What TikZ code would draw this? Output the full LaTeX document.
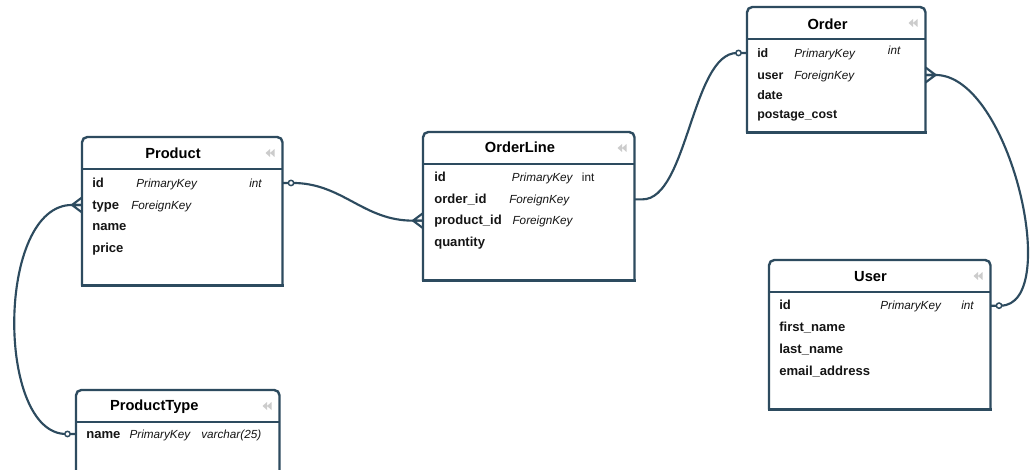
\documentclass[tikz,border=0pt]{standalone}
\usepackage{fontspec}
\setmainfont{Liberation Sans}
\usetikzlibrary{calc}

\definecolor{erline}{HTML}{2D4B5F}
\definecolor{ertext}{HTML}{151515}

\tikzset{
  tbl/.style 2 args={minimum width=#1*0.75pt, minimum height=#2*0.75pt, inner sep=0pt, anchor=north west},
  border/.style={draw=erline, line width=1.8pt},
  title/.style={anchor=base, inner sep=0pt, font=\fontsize{11}{13}\selectfont\bfseries, text=black},
  fld/.style={anchor=base west, inner sep=0pt, text height=8pt, text depth=1.5pt, font=\fontsize{9.8}{12}\selectfont\bfseries, text=ertext},
  fldsm/.style={fld, font=\fontsize{9.3}{11}\selectfont\bfseries},
  key/.style={anchor=base west, inner sep=0pt, font=\fontsize{8.8}{10}\selectfont\itshape, text=ertext},
  plain/.style={key, font=\fontsize{8.8}{10}\selectfont},
  link/.style={draw=erline, line width=1.6pt},
  ring/.style={draw=erline, fill=white, line width=1.1pt},
  crow/.pic={\draw[link, line join=round] (0,-7.5) -- (10,0) -- (0,7.5) (0,0) -- (10,0);},
  dot/.pic={\draw[link] (0,0) -- (6,0); \draw[ring] (8.5,0) circle (2pt);},
  collapse/.pic={\fill[gray!40] (0,0) -- (4.5,-4) -- (4.5,4) -- cycle (4.5,0) -- (9,-4) -- (9,4) -- cycle;}
}

\begin{document}
\begin{tikzpicture}[x=0.75pt, y=-0.75pt]
  % page
  \fill[white] (0,0) rectangle (1032,470);
  \useasboundingbox (0,0) rectangle (1032,470);
  \clip (0,0) rectangle (1032,470);

  % table boxes
  \node[tbl={200}{148}] (product) at (82,137) {};
  \node[tbl={211}{148}] (orderline) at (423,132) {};
  \node[tbl={178}{125}] (order) at (747,7) {};
  \node[tbl={221}{149}] (user) at (769,260) {};
  \node[tbl={203}{110}] (producttype) at (76,390) {};

  % frames, header lines and collapse icons
  \foreach \t in {product,orderline,order,user,producttype}{
    \draw[border, rounded corners=4pt] (\t.south west) -- (\t.north west) -- (\t.north east) -- (\t.south east);
    \draw[border, line cap=rect] (\t.south west) -- (\t.south east);
    \draw[border] ($(\t.north west)+(0,32)$) -- ($(\t.north east)+(0,32)$);
    \pic at ($(\t.north east)+(-17,16)$) {collapse};
  }

  % titles
  \node[title] (product-t) at (173,159) {Product};
  \node[title] (orderline-t) at (520,153) {OrderLine};
  \node[title] (order-t) at (827.5,29.3) {Order};
  \node[title] (user-t) at (870.5,281.7) {User};
  \node[title] (producttype-t) at (154.3,410.7) {ProductType};

  % Product
  \node[fld] (p-id) at (92,187.3) {id};
  \node[key] (p-id-k) at (136,187.3) {PrimaryKey};
  \node[key] (p-id-ty) at (249,187.3) {int};
  \node[fld] (p-type) at (92,209.3) {type};
  \node[key] (p-type-k) at (131,209.3) {ForeignKey};
  \node[fld] (p-name) at (92,231) {name};
  \node[fld] (p-price) at (92,252.7) {price};

  % OrderLine
  \node[fld] (ol-id) at (434,181.7) {id};
  \node[key] (ol-id-k) at (511.7,181.7) {PrimaryKey};
  \node[plain] (ol-id-ty) at (581.7,181.7) {int};
  \node[fld] (ol-order) at (434,203.7) {order\_id};
  \node[key] (ol-order-k) at (509,203.7) {ForeignKey};
  \node[fld] (ol-prod) at (434,225) {product\_id};
  \node[key] (ol-prod-k) at (512.3,225) {ForeignKey};
  \node[fld] (ol-qty) at (434,247) {quantity};

  % Order
  \node[fldsm] (o-id) at (757,57.3) {id};
  \node[key] (o-id-k) at (794,57.3) {PrimaryKey};
  \node[key] (o-id-ty) at (887.7,55) {int};
  \node[fldsm] (o-user) at (757,79.3) {user};
  \node[key] (o-user-k) at (794,79.3) {ForeignKey};
  \node[fldsm] (o-date) at (757,99.3) {date};
  \node[fldsm] (o-cost) at (757,119) {postage\_cost};

  % User
  \node[fld] (u-id) at (779,310) {id};
  \node[key] (u-id-k) at (880,310) {PrimaryKey};
  \node[key] (u-id-ty) at (961,310) {int};
  \node[fld] (u-first) at (779,331.7) {first\_name};
  \node[fld] (u-last) at (779,353.7) {last\_name};
  \node[fld] (u-mail) at (779,375) {email\_address};

  % ProductType
  \node[fld] (pt-name) at (86,438.3) {name};
  \node[key] (pt-name-k) at (129.3,438.3) {PrimaryKey};
  \node[key] (pt-name-ty) at (201,438.3) {varchar(25)};

  % Product.id -- OrderLine.product_id
  \draw[link] (product.east |- p-id.west) -- ++(10,0) .. controls +(50,0) and +(-50,0) .. ($(orderline.west |- ol-prod.west)+(-10,0)$) -- (orderline.west |- ol-prod.west);
  \pic at (product.east |- p-id.west) {dot};
  \pic[xscale=-1] at (orderline.west |- ol-prod.west) {crow};

  % OrderLine.order_id -- Order.id
  \draw[link] (orderline.east |- ol-order.west) -- ++(8,0) .. controls +(45,0) and +(-45,0) .. ($(order.west |- o-id.west)+(-10,0)$) -- (order.west |- o-id.west);
  \pic[xscale=-1] at (order.west |- o-id.west) {dot};

  % Order.user -- User.id
  \draw[link] (order.east |- o-user.west) -- ++(10,0) .. controls +(75,0) and +(62,0) .. ($(user.east |- u-id.west)+(10,0)$) -- (user.east |- u-id.west);
  \pic at (order.east |- o-user.west) {crow};
  \pic at (user.east |- u-id.west) {dot};

  % Product.type -- ProductType.name
  \draw[link] (product.west |- p-type.west) -- ++(-10,0) .. controls +(-76,0) and +(-70,0) .. ($(producttype.west |- pt-name.west)+(-10,0)$) -- (producttype.west |- pt-name.west);
  \pic[xscale=-1] at (product.west |- p-type.west) {crow};
  \pic[xscale=-1] at (producttype.west |- pt-name.west) {dot};

\end{tikzpicture}
\end{document}
